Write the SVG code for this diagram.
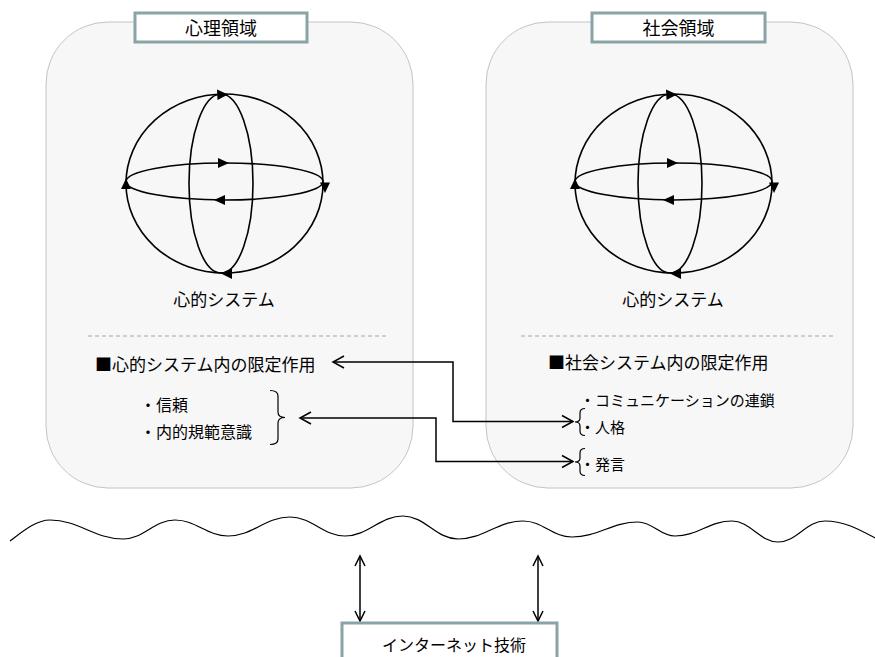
<svg xmlns="http://www.w3.org/2000/svg" xmlns:xlink="http://www.w3.org/1999/xlink" width="875" height="657" viewBox="0 0 875 657">
<style>
.panel{fill:#F7F7F7;stroke:#C4C4C4;stroke-width:1}
.title{fill:#FFFFFF;stroke:#8AA3A6;stroke-width:3}
.t{font-family:"Noto Sans CJK JP","Noto Sans CJK SC",sans-serif;fill:#000}
.sph{fill:none;stroke:#000;stroke-width:1.6}
.ah{fill:#000;stroke:none}
.dash{stroke:#A6A6A6;stroke-width:1;stroke-dasharray:4 3;fill:none}
.ln{fill:none;stroke:#000;stroke-width:1.5}
.br{fill:none;stroke:#000;stroke-width:1.2}
</style>
<defs>
<g id="sphere">
<ellipse class="sph" cx="224.5" cy="183.5" rx="98.5" ry="89.5"/>
<ellipse class="sph" cx="221" cy="183.5" rx="32" ry="89.5"/>
<ellipse class="sph" cx="224.5" cy="181.5" rx="98.5" ry="18.5"/>
<polygon class="ah" points="228,94.5 217,89.5 217.5,100"/>
<polygon class="ah" points="229,163 218,158 218,168"/>
<polygon class="ah" points="214,200 225,195 225,205"/>
<polygon class="ah" points="221,273.5 232,268 232,279"/>
<polygon class="ah" points="126,178.5 121,189 131,189"/>
<polygon class="ah" points="325,193 320,182.5 330,182.5"/>
</g>
</defs>

<g id="psych-domain">
<rect class="panel" x="46" y="22" width="367" height="466" rx="62" ry="62"/>
<line class="dash" x1="88" y1="336" x2="387" y2="336"/>
</g>
<g id="social-domain">
<rect class="panel" x="486" y="22" width="367" height="466" rx="62" ry="62"/>
<line class="dash" x1="521" y1="336" x2="836" y2="336"/>
</g>

<g id="title-psych">
<rect class="title" x="135" y="13" width="172" height="29"/>
<text class="t" x="221" y="34.5" font-size="18" text-anchor="middle">心理領域</text>
</g>
<g id="title-social">
<rect class="title" x="592" y="13" width="173" height="29"/>
<text class="t" x="678.5" y="34.5" font-size="18" text-anchor="middle">社会領域</text>
</g>

<g id="psych-system">
<use xlink:href="#sphere"/>
<text class="t" x="224" y="306" font-size="17" text-anchor="middle">心的システム</text>
</g>
<g id="social-system">
<use xlink:href="#sphere" transform="translate(449,0)"/>
<text class="t" x="673" y="306" font-size="17" text-anchor="middle">心的システム</text>
</g>

<g id="psych-limits">
<text class="t" x="95" y="371" font-size="17">■心的システム内の限定作用</text>
<text class="t" x="140" y="411" font-size="16">・信頼</text>
<text class="t" x="140" y="438" font-size="16">・内的規範意識</text>
<path class="br" d="M270,390.5 Q278,390.5 278,396 V412 Q278,417.5 285,417.5 Q278,417.5 278,423 V439 Q278,444.5 270,444.5"/>
</g>

<g id="social-limits">
<text class="t" x="548" y="369" font-size="17">■社会システム内の限定作用</text>
<text class="t" x="580" y="405.5" font-size="15">・コミュニケーションの連鎖</text>
<text class="t" x="580" y="432.5" font-size="15">・人格</text>
<text class="t" x="580" y="470" font-size="15">・発言</text>
<path class="br" d="M585,408.5 Q580,408.5 580,413 V418 Q580,422 575,422 Q580,422 580,426 V431 Q580,435.5 585,435.5"/>
<path class="br" d="M585,448.5 Q580,448.5 580,453 V458 Q580,462 575,462 Q580,462 580,466 V471 Q580,475.5 585,475.5"/>
</g>

<g id="connectors">
<path class="ln" d="M333,362 H453 V421.5 H573"/>
<path class="ln" d="M344,356 L333,362 L344,368"/>
<path class="ln" d="M562,415.5 L573,421.5 L562,427.5"/>
<path class="ln" d="M300,418 H436 V461.5 H573"/>
<path class="ln" d="M311,412 L300,418 L311,424"/>
<path class="ln" d="M562,455.5 L573,461.5 L562,467.5"/>
<path class="ln" d="M360,556 V621"/>
<path class="ln" d="M355,566 L360,556 L365,566"/>
<path class="ln" d="M355,611 L360,621 L365,611"/>
<path class="ln" d="M538,556 V621"/>
<path class="ln" d="M533,566 L538,556 L543,566"/>
<path class="ln" d="M533,611 L538,621 L543,611"/>
</g>

<g id="wave">
<path fill="none" stroke="#000" stroke-width="1.2" d="M10,541 C22,532 36,520 50,520 C79,520 94,539 123,539 C144,539 154,520 175,520 C196,520 207,536 228,536 C253,536 265,517 290,517 C312,517 323,536 345,536 C368,536 380,516 403,516 C425,516 436,539 458,539 C484,539 497,521 523,521 C543,521 552,537 572,537 C598,537 612,522 638,522 C653,522 660,536 675,536 C698,536 709,521 732,521 C750,521 760,542 778,542 C797,542 806,521 825,521 C845,521 860,530 875,538"/>
</g>

<g id="internet">
<rect class="title" x="342" y="623" width="215" height="40"/>
<text class="t" x="454" y="651" font-size="16" text-anchor="middle">インターネット技術</text>
</g>
</svg>
